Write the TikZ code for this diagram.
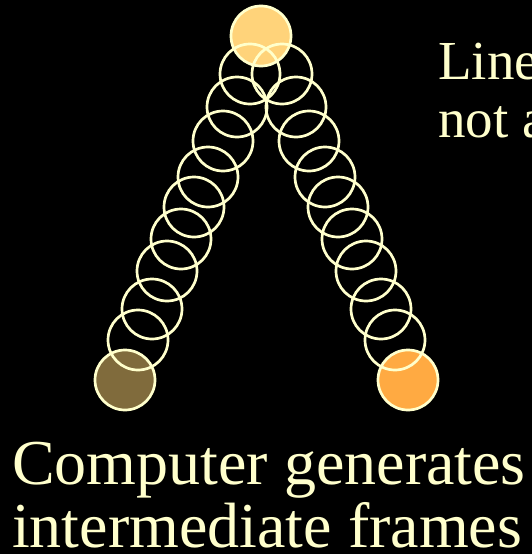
\documentclass[tikz,border=0pt]{standalone}
\usepackage{fontspec}
\setmainfont{Liberation Serif}
\newfontfamily\tnr{Liberation Serif}
\definecolor{cream}{RGB}{255,255,204}
\definecolor{topfill}{RGB}{255,211,122}
\definecolor{leftfill}{RGB}{128,107,60}
\definecolor{rightfill}{RGB}{255,170,66}
\tikzset{
  key/.style={circle, draw=cream, line width=2.7pt, minimum size=60pt, inner sep=0pt},
  ring/.style={circle, draw=cream, line width=2.7pt, minimum size=60pt, inner sep=0pt},
  txt/.style={text=cream, inner sep=0pt, anchor=base west}
}
\begin{document}
\begin{tikzpicture}[x=1pt,y=-1pt]
\fill[black] (0,0) rectangle (532,554);
\useasboundingbox (0,0) rectangle (532,554);
% key frames
\node[key, fill=topfill] (top) at (261,36) {};
\node[key, fill=leftfill] (bl) at (125,380) {};
\node[key, fill=rightfill] (br) at (408,380) {};
% intermediate frames, left
\foreach \x/\y [count=\i] in {250/74,237/107,223/141,208/177,194/207,181/239,167/271,152/309,138/340}
  \node[ring] (l\i) at (\x,\y) {};
% intermediate frames, right
\foreach \x/\y [count=\i] in {282/74,296/107,309/141,325/177,338/207,352/239,366/271,381/309,395/340}
  \node[ring] (r\i) at (\x,\y) {};
% texts
\node[txt, font=\tnr\fontsize{55}{58}\selectfont] (t1) at (438,79) {Line};
\node[txt, font=\tnr\fontsize{55}{58}\selectfont] (t2) at (438,137) {not a};
\node[txt, font=\tnr\fontsize{64}{63}\selectfont] (b1) at (12,484) {Computer generates};
\node[txt, font=\tnr\fontsize{64}{63}\selectfont] (b2) at (12,547) {intermediate frames};
\end{tikzpicture}
\end{document}
